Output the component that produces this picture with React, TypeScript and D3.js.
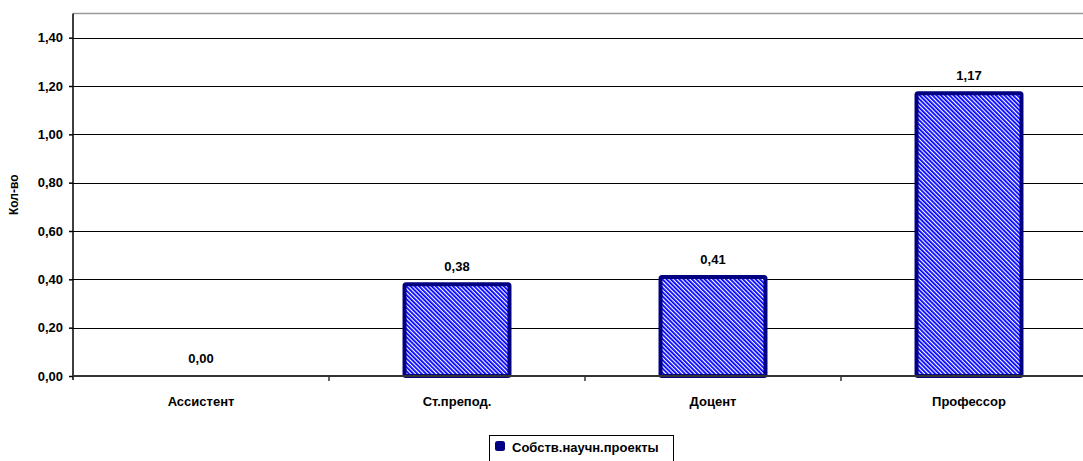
import React, { useEffect, useRef } from 'react'
import * as d3 from 'd3'

const categories = ['Ассистент', 'Ст.препод.', 'Доцент', 'Профессор']
const values = [0.0, 0.38, 0.41, 1.17]
const yTicks = [0, 0.2, 0.4, 0.6, 0.8, 1.0, 1.2, 1.4]
const seriesName = 'Собств.научн.проекты'
const yTitle = 'Кол-во'

const fmt = (v: number) => v.toFixed(2).replace('.', ',')

const App = () => {
    const svgRef = useRef<SVGSVGElement>(null)

    useEffect(() => {
        const svg = d3.select(svgRef.current)
        svg.selectAll('*').remove()

        const width = 1083
        const height = 461
        const left = 73
        const right = 1097
        const top = 13.5
        const bottom = 376
        const font = '"Liberation Sans", Arial, sans-serif'

        const x = d3.scaleBand().domain(categories).range([left, right]).paddingInner(0).paddingOuter(0)
        const y = d3.scaleLinear().domain([0, 1.5]).range([bottom, top])

        // hatch pattern
        const defs = svg.append('defs')
        const pat = defs.append('pattern')
            .attr('id', 'hatch')
            .attr('patternUnits', 'userSpaceOnUse')
            .attr('width', 3)
            .attr('height', 3)
            .attr('patternTransform', 'rotate(-45)')
        pat.append('rect').attr('width', 3).attr('height', 3).attr('fill', '#ffffff')
        pat.append('rect').attr('width', 1.8).attr('height', 3).attr('fill', '#0000ff')

        // top border
        svg.append('line')
            .attr('x1', left).attr('x2', right).attr('y1', top).attr('y2', top)
            .attr('stroke', '#9a9a9a').attr('stroke-width', 1.5)

        // gridlines
        svg.append('g')
            .selectAll('line')
            .data(yTicks.slice(1))
            .join('line')
            .attr('x1', left).attr('x2', right)
            .attr('y1', d => Math.round(y(d)) + 0.5).attr('y2', d => Math.round(y(d)) + 0.5)
            .attr('stroke', '#000').attr('stroke-width', 1)

        // bars
        const bw = x.bandwidth() * 0.41
        svg.append('g')
            .selectAll('rect')
            .data(values.map((v, i) => ({ v, c: categories[i] })))
            .join('rect')
            .filter(d => d.v > 0)
            .attr('x', d => (x(d.c) as number) + x.bandwidth() / 2 - bw / 2)
            .attr('y', d => y(d.v))
            .attr('width', bw)
            .attr('height', d => bottom - y(d.v))
            .attr('fill', 'url(#hatch)')
            .attr('stroke', '#000080')
            .attr('stroke-width', 4)
            .attr('rx', 1.5)

        // value labels
        svg.append('g')
            .selectAll('text')
            .data(values.map((v, i) => ({ v, c: categories[i] })))
            .join('text')
            .attr('x', d => (x(d.c) as number) + x.bandwidth() / 2)
            .attr('y', d => y(d.v) - 13)
            .attr('text-anchor', 'middle')
            .style('font', `bold 13px ${font}`)
            .attr('fill', '#000')
            .text(d => fmt(d.v))

        // y axis
        const yAxis = svg.append('g')
            .attr('transform', `translate(${left},0)`)
            .call(d3.axisLeft(y).tickValues(yTicks).tickSize(4).tickPadding(6).tickFormat(d => fmt(+d)))
        yAxis.select('.domain').attr('stroke', '#000').attr('stroke-width', 1.5).attr('d', `M0,${top}V${bottom + 4}`)
        yAxis.selectAll('.tick line').attr('stroke', '#000').attr('stroke-width', 1.5)
        yAxis.selectAll('.tick text')
            .style('font', `bold 13px ${font}`)
            .attr('fill', '#000')

        // x axis
        const xAxis = svg.append('g')
            .attr('transform', `translate(0,${bottom})`)
        xAxis.append('line')
            .attr('x1', left).attr('x2', right).attr('y1', 0).attr('y2', 0)
            .attr('stroke', '#333').attr('stroke-width', 2)
        xAxis.selectAll('line.sep')
            .data(categories.slice(1))
            .join('line')
            .attr('class', 'sep')
            .attr('x1', d => x(d) as number).attr('x2', d => x(d) as number)
            .attr('y1', 0).attr('y2', 5)
            .attr('stroke', '#333').attr('stroke-width', 1.5)
        xAxis.selectAll('text')
            .data(categories)
            .join('text')
            .attr('x', d => (x(d) as number) + x.bandwidth() / 2)
            .attr('y', 30)
            .attr('text-anchor', 'middle')
            .style('font', `bold 13px ${font}`)
            .attr('fill', '#000')
            .text(d => d)

        // y title
        svg.append('text')
            .attr('transform', `translate(18,${(top + bottom) / 2}) rotate(-90)`)
            .attr('text-anchor', 'middle')
            .style('font', `bold 12px ${font}`)
            .attr('fill', '#000')
            .text(yTitle)

        // legend
        const lg = svg.append('g').attr('transform', 'translate(489,435)')
        lg.append('rect')
            .attr('x', 0.5).attr('y', 0.5).attr('width', 184).attr('height', 30)
            .attr('fill', '#fff').attr('stroke', '#000').attr('stroke-width', 1)
        lg.append('rect')
            .attr('x', 6).attr('y', 6).attr('width', 10).attr('height', 10).attr('rx', 2.5)
            .attr('fill', '#000080')
        lg.append('text')
            .attr('x', 23).attr('y', 17)
            .style('font', `bold 13px ${font}`)
            .attr('fill', '#000')
            .text(seriesName)

        svg.attr('width', width).attr('height', height)
    }, [])

    return (
        <svg ref={svgRef} style={{ position: 'absolute', left: 0, top: 0, display: 'block', background: '#fff' }} />
    )
}

export default App
